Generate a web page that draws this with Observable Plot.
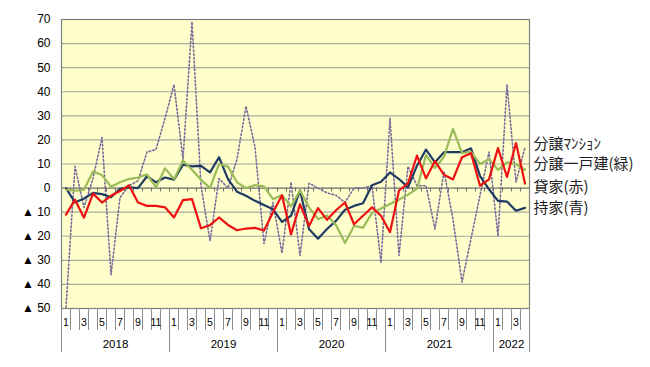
<!DOCTYPE html>
<html><head><meta charset="utf-8">
<script src="https://cdn.jsdelivr.net/npm/d3@7"></script>
<script src="https://cdn.jsdelivr.net/npm/@observablehq/plot@0.6"></script>
<style>body{margin:0;background:#fff}</style>
</head><body><div id="chart"></div>
<script>
// Categories
const years = ["2018", "2019", "2020", "2021", "2022"];
const monthsPerYear = [12, 12, 12, 12, 4];
// Series (year-on-year %, monthly from Jan 2018)
const mansion = [-49.5, 9, -8, 4, 21, -36, -4, 1, 3, 15, 16, 29, 43, 12, 69, 1, -22, 4, 0, 12, 34, 17, -23, -6, -27, 2.5, -28, 2, 0, -2, -3, -6, 0, 0, 1, -31, 29, -28, 9, 1, 1, -17, 7, -13, -39, -21, -3, 15, -20, 43, 2.5, 17];
const owned = [0, -6, -4.3, -2, -2.5, -3.8, -0.3, 0.3, 0, 4.9, 2.4, 4.4, 3.5, 9.7, 9, 9.2, 6.5, 12.8, 3.75, -1.5, -3.2, -5.3, -7, -8.8, -14, -11.5, -1, -17, -21, -17, -13.6, -9, -7.4, -6.3, 1.2, 2.6, 6.5, 3.75, 0.3, 9.3, 16, 10.7, 14.9, 14.9, 14.9, 16.5, 5.1, -0.5, -5.3, -5.6, -9.4, -8.2];
const rental = [-11, -4.8, -12.3, -2.3, -6, -3.2, -1.2, 1.1, -6, -7.4, -7.4, -8, -12.2, -5, -4.6, -16.7, -15.4, -12.2, -15.3, -17.5, -16.8, -16.5, -17.6, -10, -3, -19.2, -6.7, -15.7, -8.3, -13.2, -9.2, -6, -15, -11.5, -8, -11.5, -18.3, -1, 2, 13.5, 4, 11.2, 5.5, 3.6, 12.8, 14.5, 1, 3.6, 16.6, 4.6, 18.7, 1.9];
const detached = [-0.7, -1.1, -0.7, 6.9, 5.4, 0.6, 2.4, 3.75, 4.4, 5.7, 0.3, 8.2, 3.75, 11.4, 7.6, 3.5, 0, 10, 8.9, 2.4, 0, 1.25, 0.7, -4.6, -2.9, -7.6, -1, -8, -12.9, -11.4, -15.3, -22.8, -15.7, -16.4, -10.4, -8.5, -6.6, -4.8, -2.7, -0.3, 13.7, 8.4, 13, 24.6, 14.5, 15, 10, 12, 7.6, 10.7, 10, 7.6];
// Labels
const seriesLabels = ["分譲ﾏﾝｼｮﾝ", "分譲一戸建(緑)", "貸家(赤)", "持家(青)"];
const yTicks = [70, 60, 50, 40, 30, 20, 10, 0, -10, -20, -30, -40, -50];

const n = mansion.length;
const monthOfIndex = [];
const yearStarts = [];
let acc = 0;
monthsPerYear.forEach(c => { yearStarts.push(acc); for (let m = 1; m <= c; m++) monthOfIndex.push(m); acc += c; });
const yearBounds = [...yearStarts, acc];
const yearCenters = yearStarts.map((s, k) => s + monthsPerYear[k] / 2);
const monthLabelPos = d3.range(n).filter(i => monthOfIndex[i] % 2 === 1).map(i => i + 0.5);
const xi = (d, i) => i + 0.5;
const yFmt = v => v < 0 ? "▲ " + (-v) : String(v);
const legendFont = "'Noto Sans CJK JP', sans-serif";

const chart = Plot.plot({
  width: 650, height: 367,
  marginLeft: 61, marginRight: 121, marginTop: 19, marginBottom: 59,
  style: {fontFamily: "'Liberation Sans', 'Noto Sans CJK JP', sans-serif", fontSize: "11px", background: "#fff", color: "#000"},
  x: {domain: [0, n], axis: null},
  y: {domain: [-50, 70], axis: null},
  marks: [
    Plot.frame({fill: "#FFFFCC", stroke: null}),
    Plot.ruleY(yTicks.filter(v => v !== 0 && v !== 70 && v !== -50), {stroke: "#A8A8A0", strokeWidth: 1.2}),
    Plot.ruleY([0], {stroke: "#6E6E6E", strokeWidth: 1.2}),
    Plot.ruleX(d3.range(1, n), {x: d => d, y1: 0, y2: -1.6, stroke: "#6E6E6E", strokeWidth: 1}),
    Plot.lineY(mansion, {x: xi, y: d => d, stroke: "#7A6A98", strokeWidth: 1.6, strokeDasharray: "1.6 2.2"}),
    Plot.lineY(owned, {x: xi, y: d => d, stroke: "#1F3A63", strokeWidth: 2.2}),
    Plot.lineY(detached, {x: xi, y: d => d, stroke: "#9BBB59", strokeWidth: 2.2}),
    Plot.lineY(rental, {x: xi, y: d => d, stroke: "#EE1111", strokeWidth: 2.2}),
    Plot.frame({stroke: "#7F7F7F", strokeWidth: 1.2}),
    Plot.axisY(yTicks, {tickSize: 0, tickPadding: 11, tickFormat: yFmt, fontSize: 12, label: null}),
    Plot.axisX(d3.range(0, n + 1), {tickSize: 22, tickFormat: () => "", stroke: "#8C8C8C", label: null}),
    Plot.axisX(yearBounds, {tickSize: 44, tickFormat: () => "", stroke: "#8C8C8C", label: null}),
    Plot.axisX(monthLabelPos, {tickSize: 0, tickPadding: 10, tickFormat: v => String(monthOfIndex[Math.floor(v)]), fontSize: 10.5, label: null}),
    Plot.axisX(yearCenters, {tickSize: 0, tickPadding: 31, tickFormat: v => years[yearCenters.indexOf(v)], fontSize: 11.5, label: null}),
    Plot.text([seriesLabels[0]], {frameAnchor: "right", dx: 4, dy: -20, textAnchor: "start", fontSize: 15, fontFamily: legendFont, fill: "#222"}),
    Plot.text([seriesLabels[1]], {frameAnchor: "right", dx: 4, dy: 0, textAnchor: "start", fontSize: 15, fontFamily: legendFont, fill: "#222"}),
    Plot.text([seriesLabels[2]], {frameAnchor: "right", dx: 4, dy: 23.5, textAnchor: "start", fontSize: 15, fontFamily: legendFont, fill: "#222"}),
    Plot.text([seriesLabels[3]], {frameAnchor: "right", dx: 4, dy: 44.5, textAnchor: "start", fontSize: 15, fontFamily: legendFont, fill: "#222"})
  ]
});
document.getElementById("chart").appendChild(chart);
</script>
</body></html>
